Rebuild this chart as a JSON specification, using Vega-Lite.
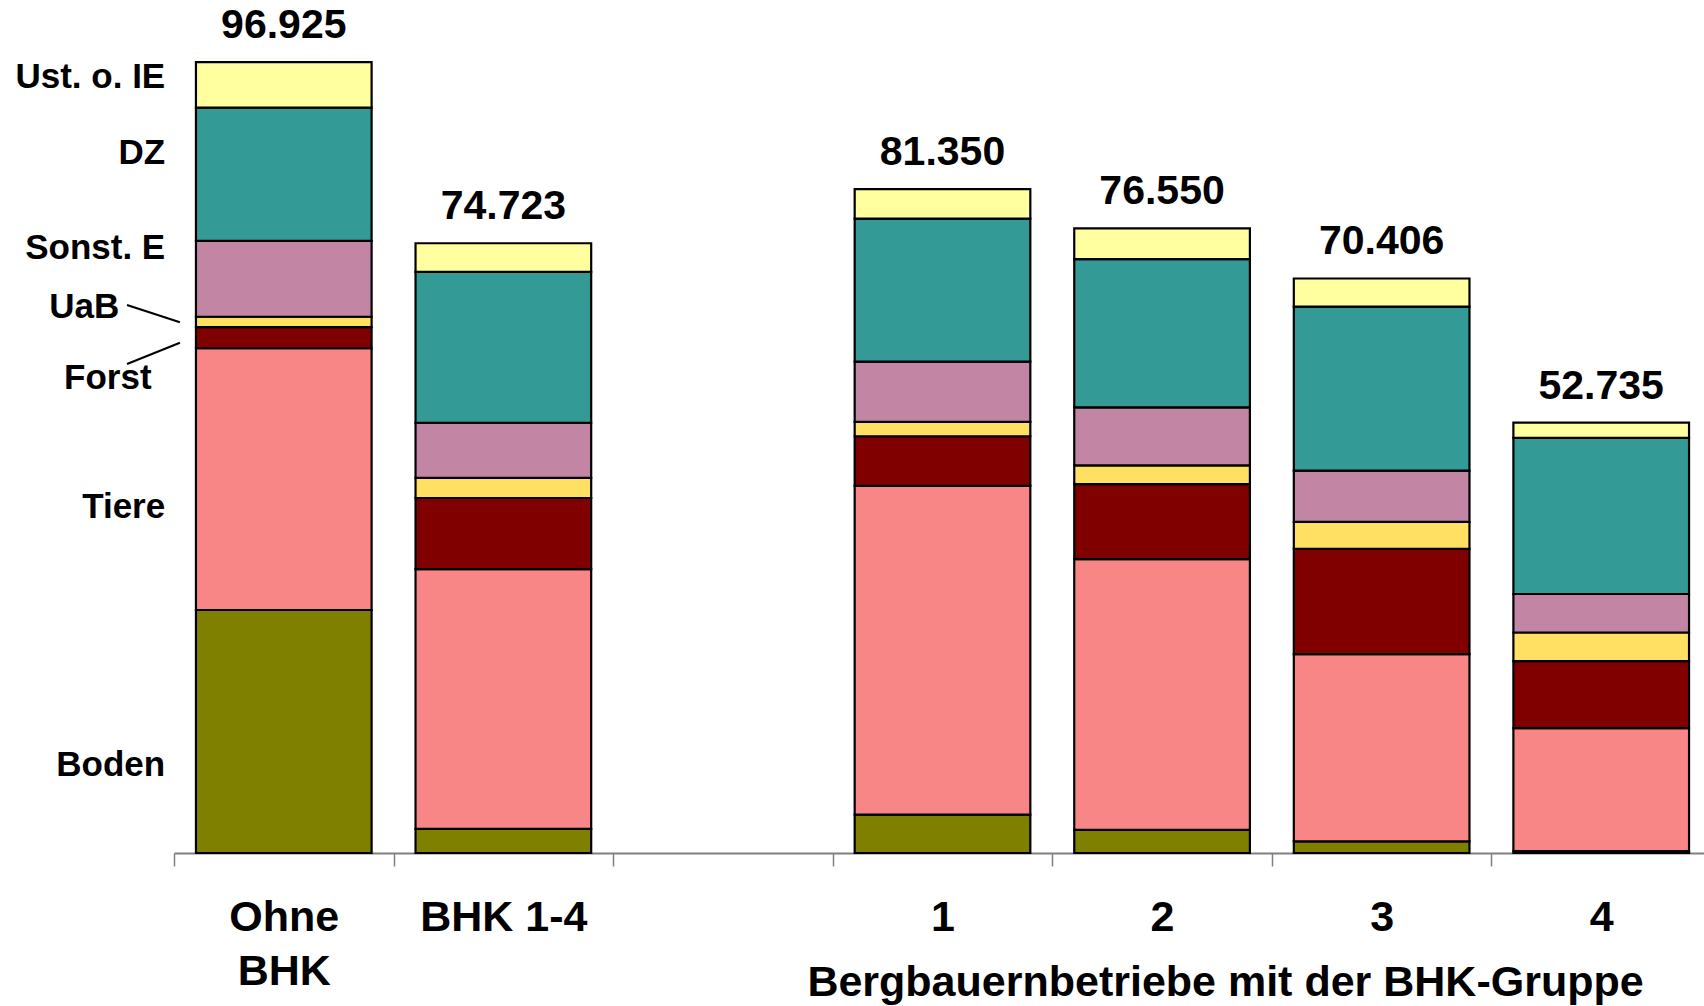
{
  "$schema": "https://vega.github.io/schema/vega-lite/v6.json",
  "width": 1537,
  "height": 816,
  "autosize": {"type": "none"},
  "padding": {"left": 174, "top": 37, "right": -7, "bottom": 153},
  "background": "white",
  "config": {
    "view": {"stroke": null},
    "font": "Liberation Sans",
    "locale": {"number": {"decimal": ",", "thousands": ".", "grouping": [3], "currency": ["", "\u00a0€"]}}
  },
  "datasets": {
    "income": [
      {"group": "Ohne BHK", "component": "Boden", "value": 29778},
      {"group": "Ohne BHK", "component": "Tiere", "value": 32077},
      {"group": "Ohne BHK", "component": "Forst", "value": 2581},
      {"group": "Ohne BHK", "component": "UaB", "value": 1278},
      {"group": "Ohne BHK", "component": "Sonst. E", "value": 9291},
      {"group": "Ohne BHK", "component": "DZ", "value": 16346},
      {"group": "Ohne BHK", "component": "Ust. o. IE", "value": 5574},
      {"group": "BHK 1-4", "component": "Boden", "value": 2950},
      {"group": "BHK 1-4", "component": "Tiere", "value": 31830},
      {"group": "BHK 1-4", "component": "Forst", "value": 8726},
      {"group": "BHK 1-4", "component": "UaB", "value": 2458},
      {"group": "BHK 1-4", "component": "Sonst. E", "value": 6760},
      {"group": "BHK 1-4", "component": "DZ", "value": 18484},
      {"group": "BHK 1-4", "component": "Ust. o. IE", "value": 3515},
      {"group": "1", "component": "Boden", "value": 4708},
      {"group": "1", "component": "Tiere", "value": 40290},
      {"group": "1", "component": "Forst", "value": 6076},
      {"group": "1", "component": "UaB", "value": 1752},
      {"group": "1", "component": "Sonst. E", "value": 7390},
      {"group": "1", "component": "DZ", "value": 17518},
      {"group": "1", "component": "Ust. o. IE", "value": 3616},
      {"group": "2", "component": "Boden", "value": 2845},
      {"group": "2", "component": "Tiere", "value": 33160},
      {"group": "2", "component": "Forst", "value": 9193},
      {"group": "2", "component": "UaB", "value": 2298},
      {"group": "2", "component": "Sonst. E", "value": 7113},
      {"group": "2", "component": "DZ", "value": 18167},
      {"group": "2", "component": "Ust. o. IE", "value": 3774},
      {"group": "3", "component": "Boden", "value": 1424},
      {"group": "3", "component": "Tiere", "value": 22940},
      {"group": "3", "component": "Forst", "value": 12921},
      {"group": "3", "component": "UaB", "value": 3285},
      {"group": "3", "component": "Sonst. E", "value": 6296},
      {"group": "3", "component": "DZ", "value": 20093},
      {"group": "3", "component": "Ust. o. IE", "value": 3447},
      {"group": "4", "component": "Boden", "value": 219},
      {"group": "4", "component": "Tiere", "value": 15075},
      {"group": "4", "component": "Forst", "value": 8223},
      {"group": "4", "component": "UaB", "value": 3508},
      {"group": "4", "component": "Sonst. E", "value": 4715},
      {"group": "4", "component": "DZ", "value": 19132},
      {"group": "4", "component": "Ust. o. IE", "value": 1863}
    ],
    "labels": [
      {"label": "Ust. o. IE", "value": 95074},
      {"label": "DZ", "value": 85760},
      {"label": "Sonst. E", "value": 74167},
      {"label": "UaB", "value": 66912},
      {"label": "Forst", "value": 58272},
      {"label": "Tiere", "value": 42341},
      {"label": "Boden", "value": 10784}
    ],
    "leaders": [
      {"label": "UaB", "y": 67157, "y2": 65037},
      {"label": "Forst", "y": 59926, "y2": 62537}
    ]
  },
  "layer": [
    {
      "data": {"name": "income"},
      "layer": [
        {
          "transform": [{"calculate": "indexof(['Boden', 'Tiere', 'Forst', 'UaB', 'Sonst. E', 'DZ', 'Ust. o. IE'], datum.component)", "as": "stackRank"}],
          "mark": {"type": "bar", "stroke": "black", "strokeWidth": 2.2, "width": {"band": 0.8}},
          "encoding": {
            "x": {
              "field": "group",
              "type": "nominal",
              "scale": {"domain": ["Ohne BHK", "BHK 1-4", "gap", "1", "2", "3", "4"], "paddingInner": 0, "paddingOuter": 0},
              "axis": {
                "tickBand": "extent",
                "domainColor": "#808080",
                "domainWidth": 2,
                "tickColor": "#808080",
                "tickWidth": 1.5,
                "tickSize": 13,
                "labelFont": "Liberation Sans",
                "labelFontSize": 43,
                "labelFontWeight": "bold",
                "labelColor": "black",
                "labelAngle": 0,
                "labelBaseline": "alphabetic",
                "labelPadding": 64,
                "labelLineHeight": 54,
                "labelOverlap": false,
                "labelBound": false,
                "labelFlush": false,
                "labelExpr": "datum.value == 'Ohne BHK' ? ['Ohne', 'BHK'] : (datum.value == 'gap' ? '' : datum.value)",
                "title": "Bergbauernbetriebe mit der BHK-Gruppe",
                "titleFont": "Liberation Sans",
                "titleFontSize": 43,
                "titleFontWeight": "bold",
                "titleColor": "black",
                "titleX": 1051,
                "titleY": 142,
                "titleAlign": "center",
                "titleBaseline": "alphabetic"
              }
            },
            "y": {
              "field": "value",
              "type": "quantitative",
              "stack": "zero",
              "scale": {"domain": [0, 100000], "nice": false},
              "axis": null
            },
            "color": {
              "field": "component",
              "type": "nominal",
              "scale": {
                "domain": ["Boden", "Tiere", "Forst", "UaB", "Sonst. E", "DZ", "Ust. o. IE"],
                "range": ["#808000", "#F98686", "#800000", "#FFE062", "#C285A3", "#339A96", "#FFFFA0"]
              },
              "legend": null
            },
            "order": {"field": "stackRank", "type": "quantitative", "sort": "ascending"}
          }
        },
        {
          "transform": [{"aggregate": [{"op": "sum", "field": "value", "as": "total"}], "groupby": ["group"]}],
          "mark": {"type": "text", "font": "Liberation Sans", "fontSize": 41, "fontWeight": "bold", "baseline": "alphabetic", "dy": -24, "color": "black"},
          "encoding": {
            "x": {"field": "group", "type": "nominal"},
            "y": {"field": "total", "type": "quantitative", "scale": {"domain": [0, 100000], "nice": false}},
            "text": {"field": "total", "type": "quantitative", "format": ",.0f"}
          }
        }
      ]
    },
    {
      "layer": [
        {
          "data": {"name": "labels"},
          "transform": [{"filter": "datum.label != 'UaB' && datum.label != 'Forst'"}],
          "mark": {"type": "text", "font": "Liberation Sans", "fontSize": 35, "fontWeight": "bold", "align": "right", "baseline": "middle", "color": "black"},
          "encoding": {
            "x": {"datum": -0.04, "type": "quantitative", "scale": {"domain": [0, 7], "nice": false, "zero": false}, "axis": null},
            "y": {"field": "value", "type": "quantitative", "scale": {"domain": [0, 100000], "nice": false}},
            "text": {"field": "label"}
          }
        },
        {
          "data": {"name": "labels"},
          "transform": [{"filter": "datum.label == 'UaB'"}],
          "mark": {"type": "text", "font": "Liberation Sans", "fontSize": 35, "fontWeight": "bold", "align": "right", "baseline": "middle", "color": "black"},
          "encoding": {
            "x": {"datum": -0.249, "type": "quantitative"},
            "y": {"field": "value", "type": "quantitative"},
            "text": {"field": "label"}
          }
        },
        {
          "data": {"name": "labels"},
          "transform": [{"filter": "datum.label == 'Forst'"}],
          "mark": {"type": "text", "font": "Liberation Sans", "fontSize": 35, "fontWeight": "bold", "align": "right", "baseline": "middle", "color": "black"},
          "encoding": {
            "x": {"datum": -0.102, "type": "quantitative"},
            "y": {"field": "value", "type": "quantitative"},
            "text": {"field": "label"}
          }
        },
        {
          "data": {"name": "leaders"},
          "mark": {"type": "rule", "color": "black", "strokeWidth": 2},
          "encoding": {
            "x": {"datum": -0.214, "type": "quantitative"},
            "x2": {"datum": 0.027},
            "y": {"field": "y", "type": "quantitative"},
            "y2": {"field": "y2"}
          }
        }
      ]
    }
  ],
  "resolve": {"scale": {"x": "independent"}}
}
